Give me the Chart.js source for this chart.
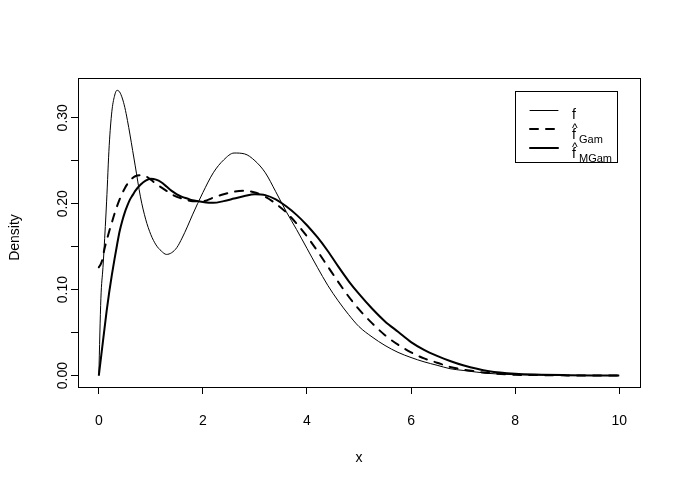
<!DOCTYPE html>
<html>
<head>
<meta charset="utf-8">
<script src="https://cdn.jsdelivr.net/npm/chart.js@4.4.1/dist/chart.umd.min.js"></script>
<style>
  html, body { margin: 0; padding: 0; background: #fff; }
  #wrap { width: 681px; height: 485px; }
</style>
</head>
<body>
<div id="wrap"><canvas id="densityChart" width="681" height="485"></canvas></div>
<script>
// values
const xs = [0, 0.04, 0.08, 0.1, 0.15, 0.2, 0.25, 0.3, 0.35, 0.4, 0.45, 0.5, 0.55, 0.6, 0.65, 0.7,
    0.8, 0.9, 1.0, 1.1, 1.2, 1.3, 1.4, 1.5, 1.6, 1.7, 1.8, 2.0, 2.2, 2.4, 2.6, 2.8, 3.0, 3.2,
    3.4, 3.6, 3.8, 4.0, 4.2, 4.4, 4.6, 4.8, 5.0, 5.25, 5.5, 5.75, 6.0, 6.25, 6.5, 6.75, 7.0,
    7.5, 8.0, 8.5, 9.0, 9.5, 10.0];

const fVals = [0, 0.09, 0.126, 0.146, 0.203, 0.268, 0.307, 0.325, 0.332, 0.330, 0.323, 0.312,
    0.297, 0.280, 0.262, 0.244, 0.208, 0.182, 0.164, 0.152, 0.145, 0.141, 0.143, 0.149, 0.160,
    0.173, 0.187, 0.213, 0.236, 0.251, 0.259, 0.258, 0.250, 0.236, 0.214, 0.191, 0.170, 0.148,
    0.126, 0.105, 0.087, 0.071, 0.057, 0.045, 0.035, 0.027, 0.021, 0.016, 0.012, 0.008, 0.006,
    0.0025, 0.001, 0.0005, 0.0002, 0.0001, 0];

const gamVals = [0.126, 0.130, 0.138, 0.145, 0.157, 0.168, 0.178, 0.188, 0.197, 0.205, 0.212,
    0.218, 0.223, 0.227, 0.230, 0.232, 0.233, 0.232, 0.228, 0.223, 0.219, 0.215, 0.211, 0.208,
    0.206, 0.204, 0.203, 0.203, 0.207, 0.211, 0.214, 0.215, 0.213, 0.208, 0.200, 0.190, 0.177,
    0.162, 0.145, 0.127, 0.109, 0.092, 0.077, 0.061, 0.047, 0.036, 0.027, 0.020, 0.015, 0.010,
    0.007, 0.003, 0.001, 0.0005, 0.0002, 0.0001, 0];

const mgamVals = [0, 0.020, 0.040, 0.050, 0.075, 0.097, 0.117, 0.135, 0.152, 0.168, 0.180,
    0.190, 0.198, 0.205, 0.210, 0.215, 0.222, 0.227, 0.229, 0.228, 0.225, 0.220, 0.215, 0.211,
    0.208, 0.206, 0.204, 0.202, 0.201, 0.203, 0.206, 0.209, 0.211, 0.210, 0.205, 0.197, 0.187,
    0.175, 0.161, 0.145, 0.127, 0.110, 0.095, 0.078, 0.063, 0.051, 0.039, 0.030, 0.023, 0.017,
    0.012, 0.005, 0.002, 0.001, 0.0005, 0.0002, 0.0001];

const xTicks = [0, 2, 4, 6, 8, 10];
const xTickLabels = ['0', '2', '4', '6', '8', '10'];
const yTicks = [0, 0.05, 0.10, 0.15, 0.20, 0.25, 0.30];
const yLabelTicks = [0, 0.10, 0.20, 0.30];
const yTickLabels = ['0.00', '0.10', '0.20', '0.30'];

const legendSubs = ['', 'Gam', 'MGam'];
const legendHats = [false, true, true];

const FONT = '"Liberation Sans", Arial, sans-serif';

function toPoints(vals) {
    return xs.map((x, i) => ({ x: x, y: vals[i] }));
}

// box, tick labels, axis titles and the legend, R style
const decor = {
    id: 'decor',
    afterDraw(chart) {
        const ctx = chart.ctx;
        const a = chart.chartArea;
        const xs_ = chart.scales.x;
        const ys_ = chart.scales.y;
        ctx.save();
        ctx.strokeStyle = '#000';
        ctx.lineWidth = 1;
        ctx.strokeRect(Math.round(a.left) + 0.5, Math.round(a.top) + 0.5,
            Math.round(a.right - a.left), Math.round(a.bottom - a.top));

        ctx.fillStyle = '#000';
        ctx.font = '14px ' + FONT;
        ctx.textAlign = 'center';
        ctx.textBaseline = 'alphabetic';
        xTicks.forEach((v, i) => {
            ctx.fillText(xTickLabels[i], xs_.getPixelForValue(v), 425);
        });
        yLabelTicks.forEach((v, i) => {
            ctx.save();
            ctx.translate(67, ys_.getPixelForValue(v));
            ctx.rotate(-Math.PI / 2);
            ctx.fillText(yTickLabels[i], 0, 0);
            ctx.restore();
        });

        ctx.fillText('x', (a.left + a.right) / 2, 462);
        ctx.save();
        ctx.translate(19, (a.top + a.bottom) / 2 + 5);
        ctx.rotate(-Math.PI / 2);
        ctx.fillText('Density', 0, 0);
        ctx.restore();

        // legend
        ctx.strokeRect(515.5, 91.5, 102, 71);
        const rowY = [110.5, 129, 148];
        chart.data.datasets.forEach((ds, i) => {
            ctx.save();
            ctx.beginPath();
            ctx.lineWidth = ds.borderWidth;
            ctx.lineCap = 'round';
            ctx.setLineDash(ds.borderDash || []);
            ctx.moveTo(530, rowY[i]);
            ctx.lineTo(558, rowY[i]);
            ctx.stroke();
            ctx.restore();

            ctx.textAlign = 'left';
            ctx.font = '14px ' + FONT;
            const base = Math.round(rowY[i]) + (legendSubs[i] ? 10 : 8);
            ctx.fillText('f', 572, base);
            if (legendHats[i]) {
                ctx.font = '12px ' + FONT;
                ctx.fillText('^', 572, base - 7);
            }
            if (legendSubs[i]) {
                ctx.font = '11px ' + FONT;
                ctx.fillText(legendSubs[i], 579, base + 4);
            }
        });
        ctx.restore();
    }
};

new Chart(document.getElementById('densityChart'), {
    type: 'line',
    data: {
        datasets: [{
            label: 'f',
            data: toPoints(fVals),
            borderColor: '#000',
            borderWidth: 1,
            pointRadius: 0,
            cubicInterpolationMode: 'monotone'
        }, {
            label: 'fGam',
            data: toPoints(gamVals),
            borderColor: '#000',
            borderWidth: 2,
            borderDash: [8, 8],
            borderCapStyle: 'round',
            pointRadius: 0,
            cubicInterpolationMode: 'monotone'
        }, {
            label: 'fMGam',
            data: toPoints(mgamVals),
            borderColor: '#000',
            borderWidth: 2,
            pointRadius: 0,
            cubicInterpolationMode: 'monotone'
        }]
    },
    options: {
        responsive: false,
        animation: false,
        events: [],
        layout: { padding: { top: 78, right: 41, left: 0, bottom: 0 } },
        plugins: {
            legend: { display: false },
            tooltip: { enabled: false }
        },
        scales: {
            x: {
                type: 'linear',
                min: -0.4,
                max: 10.4,
                afterBuildTicks: s => { s.ticks = xTicks.map(v => ({ value: v })); },
                afterFit: s => { s.height = 98; },
                grid: { drawOnChartArea: false, drawTicks: true, tickLength: 7, color: '#000' },
                border: { display: true, color: '#000' },
                ticks: { display: false }
            },
            y: {
                min: -0.0133,
                max: 0.3463,
                afterBuildTicks: s => { s.ticks = yTicks.map(v => ({ value: v })); },
                afterFit: s => { s.width = 78; },
                grid: { drawOnChartArea: false, drawTicks: true, tickLength: 7, color: '#000' },
                border: { display: true, color: '#000' },
                ticks: { display: false }
            }
        }
    },
    plugins: [decor]
});
</script>
</body>
</html>
